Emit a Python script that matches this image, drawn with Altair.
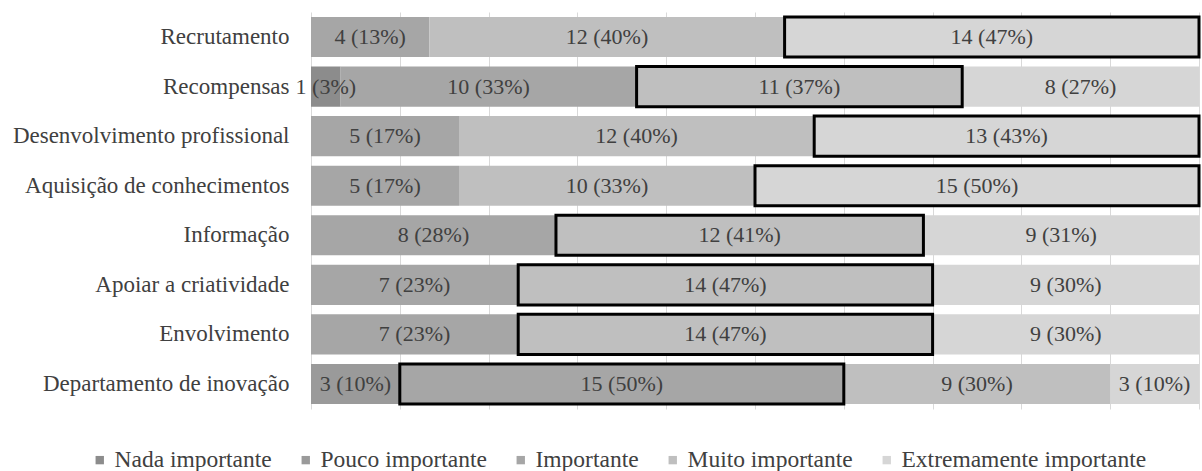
import altair as alt
import pandas as pd

items = [
    "Recrutamento",
    "Recompensas",
    "Desenvolvimento profissional",
    "Aquisição de conhecimentos",
    "Informação",
    "Apoiar a criatividade",
    "Envolvimento",
    "Departamento de inovação",
]
categories = ["Nada importante", "Pouco importante", "Importante",
              "Muito importante", "Extremamente importante"]
nada = [0, 1, 0, 0, 0, 0, 0, 0]
pouco = [0, 0, 0, 0, 0, 0, 0, 3]
importante = [4, 10, 5, 5, 8, 7, 7, 15]
muito = [12, 11, 12, 10, 12, 14, 14, 9]
extremamente = [14, 8, 13, 15, 9, 9, 9, 3]
colors = ["#8c8c8c", "#9a9a9a", "#a6a6a6", "#bfbfbf", "#d6d6d6"]

series = [nada, pouco, importante, muito, extremamente]
rows = []
for i, item in enumerate(items):
    total = sum(s[i] for s in series)
    for k, (cat, s) in enumerate(zip(categories, series)):
        c = s[i]
        if c == 0:
            continue
        rows.append({
            "item": item,
            "cat": cat,
            "order": k,
            "count": c,
            "label": f"{c} ({round(100 * c / total)}%)",
        })
df = pd.DataFrame(rows)

FONT = "'Liberation Serif', 'Times New Roman', 'DejaVu Serif', serif"
TXT = "#404040"

base = alt.Chart(df).transform_stack(
    stack="count", groupby=["item"], as_=["x0", "x1"], offset="normalize",
    sort=[alt.SortField("order")]
).transform_calculate(mid="(datum.x0 + datum.x1) / 2")

xenc = alt.X("x0:Q", scale=alt.Scale(domain=[0, 1], nice=False),
             axis=alt.Axis(values=[i / 10 for i in range(11)], labels=False,
                           ticks=False, domain=False, title=None, grid=True,
                           gridColor="#d9d9d9", gridWidth=1))
yenc = alt.Y("item:N", sort=items,
             scale=alt.Scale(paddingInner=0.19, paddingOuter=0.1),
             axis=alt.Axis(title=None, ticks=False, domain=False,
                           labelFont=FONT, labelFontSize=23, labelColor=TXT,
                           labelPadding=22, labelLimit=400))

bars = base.mark_bar().encode(
    x=xenc, x2="x1:Q", y=yenc,
    color=alt.Color("cat:N", sort=categories,
                    scale=alt.Scale(domain=categories, range=colors),
                    legend=alt.Legend(title=None, orient="none",
                                      direction="horizontal", columns=5,
                                      legendX=-223, legendY=436,
                                      symbolType="square", symbolSize=70,
                                      symbolStrokeWidth=0, labelOffset=3,
                                      columnPadding=22, labelFont=FONT,
                                      labelFontSize=23.5, labelColor=TXT,
                                      labelLimit=400)),
)

outline = base.transform_joinaggregate(
    maxc="max(count)", groupby=["item"]
).transform_filter("datum.count == datum.maxc").mark_bar(
    fill="transparent", stroke="#000000", strokeWidth=3
).encode(x="x0:Q", x2="x1:Q", y=alt.Y("item:N", sort=items))

labels = base.mark_text(font=FONT, fontSize=22, color=TXT,
                        baseline="middle", align="center").encode(
    x="mid:Q", y=alt.Y("item:N", sort=items), text="label:N")

chart = alt.layer(bars, outline, labels).properties(
    width=888, height=397,
    autosize=alt.AutoSizeParams(type="none"),
    padding={"left": 311, "top": 12, "right": 3, "bottom": 62},
).configure_view(stroke=None)

chart.save("out.html", embed_options={"renderer": "svg", "actions": False})
